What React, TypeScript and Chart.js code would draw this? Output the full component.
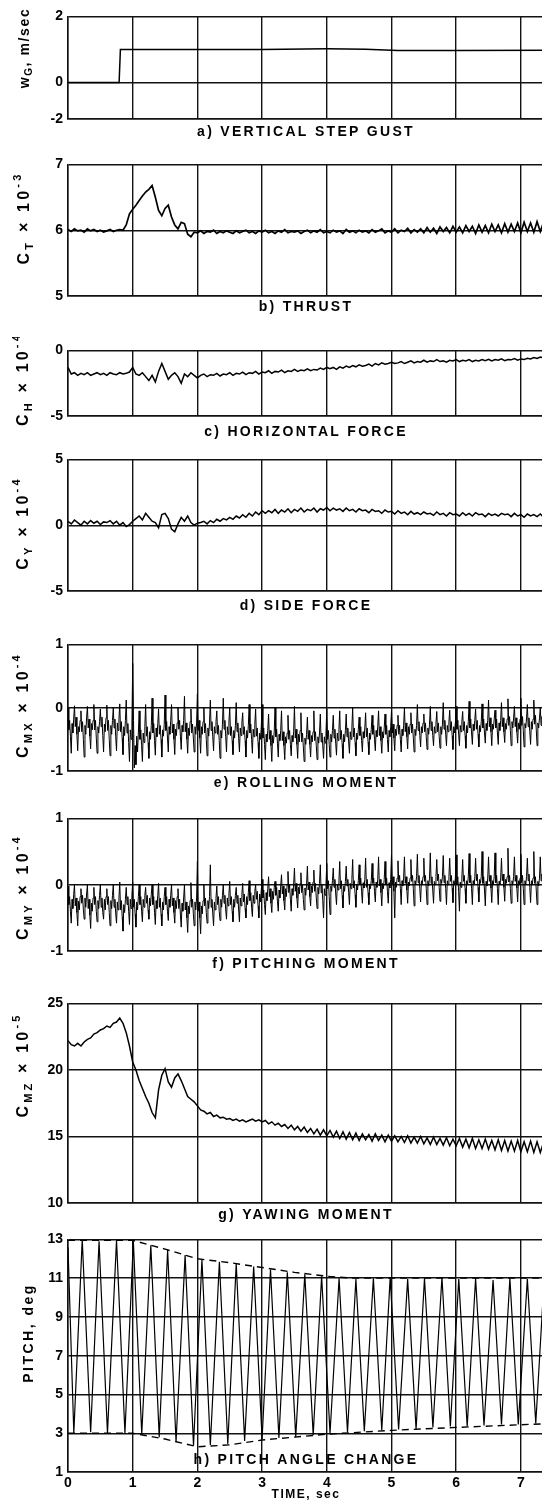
import React, { useEffect, useRef } from 'react';
import { Chart, registerables } from 'chart.js';

Chart.register(...registerables);

// ---------- shared axis data ----------
const X_MAX = 7.45;
const xTicks = [0, 1, 2, 3, 4, 5, 6, 7];
const xTickLabels = ['0', '1', '2', '3', '4', '5', '6', '7'];

// a) vertical step gust (m/sec)
const gustT = [0, 0.79, 0.81, 2.0, 3.0, 4.0, 4.6, 5.1, 6.0, 7.45];
const gustV = [0, 0, 1.0, 1.0, 1.0, 1.02, 1.01, 0.97, 0.97, 0.98];
const gustTicks = [-1.1, 0, 2];
const gustTickLabels = ['-2', '0', '2'];

// b) thrust, CT x 10^-3 (sampled every 0.05 s)
const thrustDT = 0.05;
const thrust = [
  6.01, 5.98, 6.02, 5.99, 6.0, 5.97, 6.02, 5.99, 6.01, 5.98, 6.0, 5.97, 5.99, 6.01, 5.98, 6.0,
  6.01, 6.0, 6.08, 6.25, 6.32, 6.38, 6.45, 6.52, 6.58, 6.62, 6.68, 6.5, 6.3, 6.22, 6.33, 6.38,
  6.2, 6.08, 6.02, 6.12, 6.1, 5.94, 5.9, 5.97,
  5.96, 5.99, 5.95, 5.98, 5.97, 6.0, 5.95, 5.98, 5.96, 5.99,
  5.97, 5.95, 5.99, 5.96, 5.98, 6.0, 5.96, 5.98, 5.95, 5.99,
  5.97, 6.0, 5.96, 5.98, 5.95, 5.99, 5.97, 6.01, 5.96, 5.98,
  5.97, 5.99, 5.95, 5.98, 6.0, 5.96, 5.99, 5.97, 6.01, 5.96,
  5.98, 5.96, 6.0, 5.97, 5.99, 5.95, 6.01, 5.97, 5.99, 5.96,
  6.0, 5.97, 5.99, 5.96, 6.01, 5.97, 5.99, 6.02, 5.96, 5.99,
  5.97, 6.02, 5.96, 6.0, 5.98, 6.03, 5.96, 6.01, 5.97, 6.02,
  5.96, 6.04, 5.97, 6.03, 5.95, 6.05, 5.98, 6.04, 5.96, 6.06,
  5.97, 6.05, 5.96, 6.07, 5.98, 6.06, 5.95, 6.08, 5.97, 6.07,
  5.96, 6.09, 5.98, 6.08, 5.96, 6.1, 5.97, 6.09, 5.98, 6.11,
  5.96, 6.12, 5.98, 6.11, 5.97, 6.13, 5.98, 6.12, 5.97, 6.14,
];
const thrustTicks = [5, 6, 7];
const thrustTickLabels = ['5', '6', '7'];

// c) horizontal force, CH x 10^-4 (every 0.05 s)
const hforceDT = 0.05;
const hforce = [
  -1.3, -1.8, -1.7, -1.9, -1.75, -1.85, -1.7, -1.9, -1.8, -1.7, -1.85, -1.75, -1.9, -1.7, -1.8, -1.85, -1.7, -1.8, -1.75, -1.65,
  -1.3,
  -1.8, -1.9, -1.7, -2.0, -2.3, -1.9, -2.4, -1.6, -1.0, -1.6, -2.2, -1.9, -1.7, -2.0, -2.5, -1.8, -2.0, -1.7, -1.9, -2.1,
  -1.9, -1.8, -2.0, -1.85, -1.9, -1.75, -1.95, -1.8, -1.85, -1.7, -1.9, -1.75, -1.8, -1.65, -1.85, -1.7, -1.75, -1.6, -1.8, -1.65,
  -1.7, -1.55, -1.75, -1.6, -1.65, -1.5, -1.7, -1.55, -1.6, -1.45, -1.6, -1.5, -1.55, -1.4, -1.55, -1.45, -1.5, -1.35, -1.45, -1.3,
  -1.4, -1.3, -1.45, -1.25, -1.35, -1.2, -1.3, -1.15, -1.25, -1.1, -1.2, -1.15, -1.05, -1.2, -1.0, -1.1, -0.95, -1.05, -1.0, -0.9,
  -1.0, -0.95, -0.85, -1.0, -0.9, -0.8, -0.95, -0.85, -0.9, -0.75, -0.9, -0.8, -0.85, -0.7, -0.85, -0.8, -0.9, -0.75, -0.8, -0.7,
  -0.85, -0.75, -0.8, -0.7, -0.85, -0.75, -0.8, -0.7, -0.78, -0.68, -0.8, -0.7, -0.75, -0.65, -0.78, -0.7, -0.72, -0.62, -0.75, -0.65,
  -0.7, -0.6, -0.65, -0.55, -0.62, -0.5, -0.58, -0.48, -0.55,
];
const hforceTicks = [-5, 0];
const hforceTickLabels = ['-5', '0'];

// d) side force, CY x 10^-4 (every 0.05 s)
const sforceDT = 0.05;
const sforce = [
  0.3, 0.1, 0.4, 0.2, 0.0, 0.3, 0.1, 0.35, 0.15, 0.3, 0.05, 0.25, 0.2, 0.35, 0.1, 0.3, 0.0, 0.2, -0.1, 0.05,
  0.3, 0.5, 0.7, 0.4, 0.9, 0.6, 0.3, 0.2, -0.2, 0.8, 0.9, 0.5, -0.3, -0.5, 0.1, 0.6, 0.3, 0.7, 0.2, 0.0, 0.15,
  0.2, 0.3, 0.1, 0.35, 0.2, 0.45, 0.3, 0.5, 0.4, 0.6, 0.45, 0.7, 0.55, 0.8, 0.6, 0.9, 0.7, 1.0, 0.8, 1.1,
  0.9, 1.1, 0.95, 1.2, 0.9, 1.15, 1.0, 1.25, 0.95, 1.2, 1.05, 1.3, 1.0, 1.2, 1.1, 1.3, 1.0, 1.25, 1.15, 1.35,
  1.1, 1.3, 1.15, 1.25, 1.05, 1.3, 1.1, 1.2, 1.0, 1.25, 1.1, 1.15, 0.95, 1.2, 1.05, 1.1, 0.9, 1.15, 1.0, 1.05,
  0.85, 1.1, 0.9, 1.0, 0.8, 1.05, 0.85, 0.95, 0.8, 1.0, 0.85, 0.9, 0.75, 1.0, 0.8, 0.9, 0.7, 0.95, 0.8, 0.85,
  0.7, 0.95, 0.75, 0.9, 0.7, 0.95, 0.8, 0.85, 0.65, 0.9, 0.75, 0.85, 0.7, 0.9, 0.8, 0.85, 0.65, 0.9, 0.7, 0.8,
  0.6, 0.85, 0.7, 0.8, 0.65, 0.85, 0.6, 0.75, 0.7,
];
const sforceTicks = [-5, 0, 5];
const sforceTickLabels = ['-5', '0', '5'];

// e) rolling moment, CMX x 10^-4 (every 0.0125 s)
const rollDT = 0.0125;
const roll = [
  // 0-1 s
  0.0, -0.35, -0.2, -0.45, -0.72, -0.25, -0.4, -0.18, 0.03, -0.3, -0.15, -0.42, -0.68, -0.3, -0.38, -0.2,
  -0.05, -0.38, -0.22, -0.5, -0.78, -0.28, -0.42, -0.15, 0.02, -0.32, -0.18, -0.45, -0.65, -0.25, -0.35, -0.2,
  0.05, -0.35, -0.2, -0.48, -0.72, -0.3, -0.4, -0.22, -0.02, -0.3, -0.15, -0.44, -0.7, -0.26, -0.38, -0.16,
  0.04, -0.36, -0.2, -0.5, -0.76, -0.28, -0.42, -0.2, 0.0, -0.32, -0.18, -0.46, -0.68, -0.24, -0.36, -0.18,
  0.06, -0.38, -0.22, -0.48, -0.74, -0.3, -0.44, -0.2, 0.12, -0.4, -0.25, -0.55, -0.85, -0.35, -0.5, -0.3,
  // 1-2 s
  0.7, -0.2, -0.95, -0.6, -0.9, -0.45, -0.7, -0.4, -0.05, -0.5, -0.35, -0.6, -0.85, -0.4, -0.55, -0.3,
  0.05, -0.45, -0.3, -0.55, -0.8, -0.38, -0.5, -0.28, 0.15, -0.4, -0.25, -0.52, -0.75, -0.32, -0.46, -0.25,
  -0.02, -0.42, -0.28, -0.5, -0.78, -0.35, -0.45, -0.26, 0.2, -0.36, -0.22, -0.48, -0.7, -0.3, -0.42, -0.2,
  0.05, -0.4, -0.26, -0.5, -0.74, -0.34, -0.44, -0.24, 0.0, -0.34, -0.2, -0.45, -0.66, -0.28, -0.38, -0.2,
  0.18, -0.38, -0.24, -0.5, -0.72, -0.32, -0.44, -0.22, -0.02, -0.4, -0.26, -0.48, -0.7, -0.3, -0.42, -0.24,
  // 2-3 s
  0.22, -0.36, -0.2, -0.48, -0.72, -0.3, -0.42, -0.22, 0.0, -0.4, -0.25, -0.5, -0.76, -0.32, -0.45, -0.24,
  0.12, -0.36, -0.22, -0.46, -0.68, -0.3, -0.4, -0.22, -0.05, -0.42, -0.28, -0.52, -0.8, -0.36, -0.48, -0.26,
  0.15, -0.34, -0.2, -0.46, -0.7, -0.3, -0.42, -0.22, 0.0, -0.44, -0.3, -0.52, -0.74, -0.36, -0.48, -0.28,
  0.08, -0.38, -0.24, -0.48, -0.7, -0.32, -0.44, -0.24, -0.08, -0.42, -0.3, -0.52, -0.78, -0.36, -0.48, -0.28,
  0.05, -0.4, -0.26, -0.5, -0.72, -0.34, -0.46, -0.26, -0.02, -0.45, -0.32, -0.55, -0.8, -0.4, -0.5, -0.3,
  // 3-4 s
  0.05, -0.48, -0.32, -0.58, -0.82, -0.42, -0.54, -0.36, -0.1, -0.5, -0.36, -0.6, -0.85, -0.44, -0.56, -0.38,
  0.0, -0.46, -0.34, -0.56, -0.78, -0.42, -0.52, -0.36, -0.05, -0.52, -0.38, -0.6, -0.82, -0.46, -0.56, -0.4,
  -0.12, -0.5, -0.36, -0.58, -0.76, -0.44, -0.54, -0.38, 0.02, -0.48, -0.34, -0.58, -0.8, -0.42, -0.54, -0.36,
  -0.08, -0.54, -0.4, -0.62, -0.85, -0.48, -0.58, -0.42, -0.15, -0.5, -0.36, -0.58, -0.78, -0.44, -0.54, -0.38,
  -0.05, -0.52, -0.38, -0.6, -0.82, -0.46, -0.56, -0.4, -0.1, -0.54, -0.4, -0.6, -0.8, -0.46, -0.56, -0.4,
  // 4-5 s
  -0.02, -0.5, -0.36, -0.58, -0.78, -0.42, -0.54, -0.36, -0.12, -0.48, -0.34, -0.56, -0.75, -0.4, -0.52, -0.34,
  -0.05, -0.5, -0.36, -0.58, -0.8, -0.42, -0.54, -0.36, -0.1, -0.46, -0.32, -0.54, -0.72, -0.38, -0.5, -0.32,
  0.0, -0.46, -0.32, -0.55, -0.76, -0.4, -0.5, -0.34, -0.15, -0.44, -0.3, -0.52, -0.7, -0.38, -0.48, -0.32,
  -0.08, -0.46, -0.32, -0.54, -0.74, -0.4, -0.5, -0.34, -0.12, -0.42, -0.28, -0.5, -0.68, -0.36, -0.46, -0.3,
  -0.05, -0.44, -0.3, -0.52, -0.72, -0.38, -0.48, -0.32, -0.1, -0.42, -0.28, -0.5, -0.7, -0.36, -0.46, -0.3,
  // 5-6 s
  -0.05, -0.4, -0.26, -0.48, -0.68, -0.34, -0.44, -0.28, -0.12, -0.42, -0.28, -0.5, -0.7, -0.34, -0.44, -0.28,
  0.0, -0.38, -0.24, -0.46, -0.65, -0.3, -0.42, -0.26, -0.08, -0.4, -0.26, -0.48, -0.7, -0.34, -0.44, -0.28,
  0.05, -0.36, -0.22, -0.44, -0.62, -0.3, -0.4, -0.24, -0.1, -0.38, -0.24, -0.46, -0.66, -0.32, -0.42, -0.26,
  0.02, -0.36, -0.22, -0.44, -0.6, -0.3, -0.4, -0.24, -0.06, -0.38, -0.24, -0.46, -0.64, -0.3, -0.42, -0.26,
  0.08, -0.34, -0.2, -0.42, -0.6, -0.28, -0.38, -0.22, -0.04, -0.36, -0.22, -0.44, -0.66, -0.3, -0.4, -0.24,
  // 6-7 s
  0.02, -0.34, -0.2, -0.42, -0.6, -0.28, -0.38, -0.22, -0.06, -0.36, -0.22, -0.44, -0.64, -0.28, -0.4, -0.22,
  0.1, -0.32, -0.18, -0.4, -0.58, -0.26, -0.36, -0.2, -0.02, -0.34, -0.2, -0.42, -0.62, -0.28, -0.38, -0.22,
  0.06, -0.32, -0.18, -0.4, -0.56, -0.25, -0.36, -0.2, 0.12, -0.3, -0.16, -0.38, -0.6, -0.26, -0.34, -0.18,
  -0.04, -0.32, -0.18, -0.4, -0.58, -0.24, -0.36, -0.2, 0.08, -0.3, -0.16, -0.38, -0.55, -0.25, -0.34, -0.18,
  0.14, -0.28, -0.14, -0.36, -0.6, -0.22, -0.32, -0.16, 0.02, -0.3, -0.16, -0.38, -0.56, -0.24, -0.34, -0.18,
  // 7-7.45 s
  0.15, -0.28, -0.14, -0.36, -0.62, -0.25, -0.32, -0.16, 0.05, -0.3, -0.16, -0.38, -0.58, -0.22, -0.34, -0.18,
  0.12, -0.26, -0.12, -0.34, -0.6, -0.24, -0.32, -0.16, 0.0, -0.28, -0.14, -0.36, -0.56, -0.22, -0.34, -0.18,
  0.1, -0.26, -0.12, -0.34, -0.6,
];
const rollTicks = [-1, 0, 1];
const rollTickLabels = ['-1', '0', '1'];

// f) pitching moment, CMY x 10^-4 (every 0.0125 s)
const pitchMDT = 0.0125;
const pitchM = [
  // 0-1 s
  -0.02, -0.3, -0.18, -0.4, -0.58, -0.22, -0.36, -0.15, 0.0, -0.32, -0.2, -0.42, -0.62, -0.25, -0.38, -0.18,
  -0.06, -0.28, -0.16, -0.38, -0.52, -0.2, -0.34, -0.14, 0.0, -0.36, -0.22, -0.46, -0.66, -0.28, -0.4, -0.2,
  -0.04, -0.3, -0.18, -0.4, -0.56, -0.24, -0.36, -0.16, 0.0, -0.34, -0.2, -0.42, -0.52, -0.22, -0.38, -0.18,
  -0.06, -0.3, -0.18, -0.42, -0.62, -0.24, -0.36, -0.16, 0.0, -0.34, -0.22, -0.44, -0.58, -0.26, -0.38, -0.2,
  0.04, -0.38, -0.24, -0.48, -0.7, -0.3, -0.42, -0.22, -0.04, -0.3, -0.18, -0.4, -0.6, -0.22, -0.36, -0.16,
  // 1-2 s
  0.04, -0.34, -0.22, -0.44, -0.64, -0.26, -0.38, -0.18, 0.0, -0.3, -0.18, -0.4, -0.56, -0.22, -0.34, -0.16,
  -0.04, -0.28, -0.16, -0.38, -0.52, -0.2, -0.32, -0.14, 0.0, -0.3, -0.18, -0.42, -0.6, -0.24, -0.36, -0.16,
  0.02, -0.34, -0.2, -0.44, -0.62, -0.26, -0.38, -0.18, -0.04, -0.3, -0.18, -0.4, -0.54, -0.22, -0.34, -0.16,
  0.0, -0.32, -0.2, -0.42, -0.58, -0.24, -0.36, -0.18, -0.06, -0.36, -0.22, -0.46, -0.64, -0.28, -0.4, -0.2,
  0.0, -0.38, -0.26, -0.5, -0.72, -0.32, -0.44, -0.24, 0.03, -0.34, -0.22, -0.44, -0.62, -0.26, -0.38, -0.2,
  // 2-3 s
  0.35, -0.4, -0.26, -0.5, -0.74, -0.32, -0.44, -0.24, 0.0, -0.32, -0.2, -0.42, -0.58, -0.24, -0.36, -0.18,
  0.3, -0.34, -0.22, -0.44, -0.62, -0.26, -0.38, -0.2, -0.02, -0.3, -0.18, -0.4, -0.54, -0.22, -0.34, -0.16,
  0.0, -0.28, -0.16, -0.38, -0.52, -0.2, -0.32, -0.14, 0.05, -0.3, -0.18, -0.4, -0.56, -0.22, -0.34, -0.16,
  -0.04, -0.28, -0.16, -0.38, -0.56, -0.2, -0.32, -0.14, 0.02, -0.26, -0.14, -0.36, -0.5, -0.18, -0.3, -0.12,
  0.06, -0.24, -0.12, -0.34, -0.48, -0.16, -0.28, -0.1, 0.0, -0.22, -0.1, -0.32, -0.5, -0.14, -0.26, -0.08,
  // 3-4 s
  0.08, -0.2, -0.08, -0.3, -0.45, -0.12, -0.24, -0.06, 0.12, -0.18, -0.06, -0.28, -0.42, -0.1, -0.22, -0.04,
  0.05, -0.16, -0.04, -0.26, -0.4, -0.08, -0.2, -0.02, 0.15, -0.14, -0.02, -0.24, -0.38, -0.06, -0.18, 0.0,
  0.2, -0.12, 0.0, -0.22, -0.4, -0.06, -0.16, 0.0, 0.25, -0.1, 0.02, -0.2, -0.35, -0.04, -0.14, 0.02,
  0.18, -0.12, 0.0, -0.22, -0.38, -0.05, -0.16, 0.0, 0.28, -0.08, 0.04, -0.18, -0.32, -0.02, -0.12, 0.04,
  0.22, -0.1, 0.02, -0.2, -0.36, -0.04, -0.14, 0.02, 0.3, -0.12, 0.0, -0.24, -0.5, -0.06, -0.16, 0.0,
  // 4-5 s
  0.32, -0.06, 0.06, -0.18, -0.45, -0.02, -0.1, 0.06, 0.25, -0.04, 0.08, -0.14, -0.3, 0.0, -0.08, 0.06,
  0.35, -0.06, 0.06, -0.16, -0.35, -0.02, -0.1, 0.05, 0.28, -0.02, 0.08, -0.12, -0.3, 0.02, -0.06, 0.08,
  0.38, -0.05, 0.06, -0.15, -0.34, 0.0, -0.08, 0.06, 0.3, 0.0, 0.1, -0.1, -0.28, 0.03, -0.05, 0.08,
  0.4, -0.04, 0.08, -0.12, -0.3, 0.0, -0.06, 0.06, 0.32, 0.02, 0.1, -0.1, -0.26, 0.04, -0.04, 0.08,
  0.42, -0.02, 0.08, -0.12, -0.32, 0.02, -0.06, 0.08, 0.35, 0.0, 0.1, -0.1, -0.28, 0.03, -0.05, 0.08,
  // 5-6 s
  0.45, 0.0, 0.12, -0.1, -0.5, 0.04, -0.04, 0.1, 0.36, 0.04, 0.14, -0.06, -0.3, 0.06, -0.02, 0.1,
  0.42, 0.02, 0.12, -0.08, -0.28, 0.04, -0.02, 0.1, 0.38, 0.05, 0.14, -0.06, -0.32, 0.06, 0.0, 0.12,
  0.46, 0.03, 0.14, -0.06, -0.26, 0.06, 0.0, 0.12, 0.4, 0.05, 0.14, -0.06, -0.3, 0.06, -0.02, 0.1,
  0.48, 0.02, 0.12, -0.08, -0.28, 0.05, 0.0, 0.12, 0.38, 0.06, 0.16, -0.04, -0.25, 0.08, 0.02, 0.12,
  0.44, 0.03, 0.14, -0.06, -0.3, 0.06, 0.0, 0.12, 0.4, 0.05, 0.14, -0.05, -0.27, 0.06, 0.0, 0.1,
  // 6-7 s
  0.45, 0.0, 0.12, -0.1, -0.4, 0.04, -0.04, 0.1, 0.38, 0.05, 0.14, -0.06, -0.28, 0.06, 0.0, 0.12,
  0.47, 0.03, 0.14, -0.06, -0.3, 0.06, 0.0, 0.1, 0.4, 0.06, 0.16, -0.04, -0.26, 0.08, 0.02, 0.12,
  0.5, 0.02, 0.12, -0.08, -0.32, 0.05, -0.02, 0.1, 0.42, 0.05, 0.14, -0.05, -0.27, 0.06, 0.0, 0.12,
  0.48, 0.03, 0.14, -0.06, -0.3, 0.05, 0.0, 0.1, 0.4, 0.06, 0.16, -0.04, -0.25, 0.08, 0.02, 0.12,
  0.55, 0.04, 0.14, -0.06, -0.28, 0.06, 0.0, 0.12, 0.42, 0.05, 0.14, -0.05, -0.26, 0.06, 0.0, 0.1,
  // 7-7.45 s
  0.46, 0.03, 0.14, -0.06, -0.3, 0.06, 0.0, 0.12, 0.4, 0.06, 0.16, -0.04, -0.27, 0.06, 0.0, 0.1,
  0.5, 0.02, 0.12, -0.08, -0.3, 0.05, -0.02, 0.1, 0.42, 0.06, 0.16, -0.04, -0.25, 0.06, 0.0, 0.1,
  0.48, 0.03, 0.14, -0.06, -0.28,
];
const pitchMTicks = [-1, 0, 1];
const pitchMTickLabels = ['-1', '0', '1'];

// g) yawing moment, CMZ x 10^-5 (every 0.05 s)
const yawDT = 0.05;
const yaw = [
  22.2, 21.9, 21.8, 22.0, 21.8, 22.1, 22.3, 22.4, 22.7, 22.8, 23.0, 23.1, 23.3, 23.2, 23.5,
  23.6, 23.9, 23.5, 22.8, 21.8, 20.6,
  20.0, 19.2, 18.6, 18.0, 17.5, 16.8, 16.4, 18.5, 19.6, 20.1, 19.1, 18.7, 19.4, 19.7, 19.2, 18.6, 18.0, 17.8, 17.6, 17.3,
  17.0, 16.9, 16.7, 16.8, 16.5, 16.6, 16.4, 16.45, 16.3, 16.35, 16.2, 16.3, 16.15, 16.25, 16.1, 16.2, 16.3, 16.15, 16.25, 16.1,
  16.2, 15.95, 16.1, 15.85, 16.0, 15.75, 15.9, 15.6, 15.85, 15.5, 15.75, 15.4, 15.7, 15.3, 15.6, 15.2, 15.55, 15.1, 15.5, 15.05,
  15.45, 14.95, 15.4, 14.85, 15.35, 14.8, 15.3, 14.75, 15.25, 14.7, 15.2, 14.75, 15.15, 14.65, 15.2, 14.7, 15.1, 14.6, 15.1, 14.65,
  15.05, 14.6, 15.0, 14.55, 15.05, 14.5, 14.95, 14.5, 15.0, 14.45, 14.9, 14.4, 14.95, 14.4, 14.85, 14.35, 14.9, 14.3, 14.8, 14.3,
  14.85, 14.2, 14.8, 14.15, 14.85, 14.1, 14.75, 14.1, 14.8, 14.05, 14.7, 14.0, 14.75, 13.95, 14.7, 13.9, 14.65, 13.9, 14.7, 13.85,
  14.6, 13.85, 14.65, 13.8, 14.6, 13.8, 14.55, 13.75, 14.5,
];
const yawTicks = [10, 15, 20, 25];
const yawTickLabels = ['10', '15', '20', '25'];

// h) pitch angle (deg): turning points of the oscillation
const pitchT = [
  0, 0.09, 0.22, 0.35, 0.48, 0.61, 0.75, 0.88, 1.01, 1.14, 1.28, 1.41, 1.54, 1.67, 1.81, 1.94, 2.07, 2.2, 2.34, 2.47,
  2.6, 2.73, 2.87, 3.0, 3.13, 3.26, 3.39, 3.52, 3.66, 3.79, 3.92, 4.05, 4.19, 4.32, 4.45, 4.58, 4.72, 4.85, 4.98, 5.11,
  5.25, 5.38, 5.51, 5.64, 5.78, 5.91, 6.04, 6.17, 6.3, 6.43, 6.57, 6.7, 6.83, 6.96, 7.1, 7.23, 7.36, 7.49,
];
const pitchV = [
  12.6, 3.0, 13.0, 3.05, 12.9, 3.0, 12.95, 3.0, 12.9, 2.95, 12.7, 2.8, 12.45, 2.55, 12.2, 2.35, 11.95, 2.4, 11.85, 2.45,
  11.75, 2.6, 11.6, 2.7, 11.45, 2.75, 11.3, 2.8, 11.2, 2.9, 11.1, 3.0, 11.0, 3.05, 10.95, 3.1, 11.0, 3.15, 11.05, 3.2,
  10.95, 3.2, 11.0, 3.3, 11.05, 3.35, 10.95, 3.35, 11.0, 3.4, 10.9, 3.45, 11.0, 3.45, 10.95, 3.5, 11.0, 3.5,
];
const upperEnvT = [0, 1.0, 1.5, 2.0, 2.5, 3.0, 3.5, 4.0, 4.4, 7.45];
const upperEnvV = [12.95, 12.95, 12.5, 12.0, 11.8, 11.55, 11.3, 11.1, 11.0, 11.0];
const lowerEnvT = [0, 1.0, 1.5, 2.0, 2.5, 3.0, 3.5, 4.0, 5.0, 6.0, 7.45];
const lowerEnvV = [3.0, 3.0, 2.7, 2.3, 2.4, 2.65, 2.8, 2.95, 3.15, 3.3, 3.5];
const pitchTicks = [1, 3, 5, 7, 9, 11, 13];
const pitchTickLabels = ['1', '3', '5', '7', '9', '11', '13'];

// ---------- helpers ----------
const FONT = '"Liberation Sans", Arial, Helvetica, sans-serif';
const INK = '#000';
const GRID = '#121212';
const CANVAS_W = 542;
const PADT = 10;
const TITLE_X = 306;

type Seg = { t: string; s?: 'sub' | 'sup' };
type Pt = { x: number; y: number };

const sampled = (dt: number, vals: number[]): Pt[] => vals.map((v, i) => ({ x: i * dt, y: v }));
const paired = (ts: number[], vs: number[]): Pt[] => ts.map((t, i) => ({ x: t, y: vs[i] }));

interface Panel {
  id: string;
  top: number;
  bottom: number;
  padB: number;
  yMin: number;
  yMax: number;
  yTicks: number[];
  yTickLabels: string[];
  datasets: () => any[];
  title: string;
  titleY: number;
  yTitle: Seg[];
  yTitleX: number;
  yTitleY: number;
  yTitleSize: number;
  yTitleSpacing: number;
  showX?: boolean;
  xAxisH?: number;
  xTitle?: string;
  xTitleY?: number;
}

const line = (data: Pt[], width = 1.2) => ({
  data,
  borderColor: INK,
  borderWidth: width,
  pointRadius: 0,
  fill: false,
  tension: 0,
});

const panels: Panel[] = [
  {
    id: 'a', top: 13, bottom: 119, padB: 36, yMin: -1.1, yMax: 2,
    yTicks: gustTicks, yTickLabels: gustTickLabels,
    datasets: () => [line(paired(gustT, gustV), 1.5)],
    title: 'a) VERTICAL STEP GUST', titleY: 132,
    yTitle: [{ t: 'w' }, { t: 'G', s: 'sub' }, { t: ', m/sec' }], yTitleX: 25, yTitleY: 48,
    yTitleSize: 14, yTitleSpacing: 1.6,
  },
  {
    id: 'b', top: 161, bottom: 296, padB: 36, yMin: 5, yMax: 7,
    yTicks: thrustTicks, yTickLabels: thrustTickLabels,
    datasets: () => [line(sampled(thrustDT, thrust), 1.7)],
    title: 'b) THRUST', titleY: 307,
    yTitle: [{ t: 'C' }, { t: 'T', s: 'sub' }, { t: ' × 10' }, { t: '-3', s: 'sup' }], yTitleX: 25, yTitleY: 218,
    yTitleSize: 16, yTitleSpacing: 3.2,
  },
  {
    id: 'c', top: 347, bottom: 416, padB: 36, yMin: -5, yMax: 0,
    yTicks: hforceTicks, yTickLabels: hforceTickLabels,
    datasets: () => [line(sampled(hforceDT, hforce), 1.5)],
    title: 'c) HORIZONTAL FORCE', titleY: 432,
    yTitle: [{ t: 'C' }, { t: 'H', s: 'sub' }, { t: ' × 10' }, { t: '-4', s: 'sup' }], yTitleX: 24, yTitleY: 379,
    yTitleSize: 16, yTitleSpacing: 3.2,
  },
  {
    id: 'd', top: 456, bottom: 591, padB: 36, yMin: -5, yMax: 5,
    yTicks: sforceTicks, yTickLabels: sforceTickLabels,
    datasets: () => [line(sampled(sforceDT, sforce), 1.5)],
    title: 'd) SIDE FORCE', titleY: 606,
    yTitle: [{ t: 'C' }, { t: 'Y', s: 'sub' }, { t: ' × 10' }, { t: '-4', s: 'sup' }], yTitleX: 24, yTitleY: 523,
    yTitleSize: 16, yTitleSpacing: 3.2,
  },
  {
    id: 'e', top: 641, bottom: 771, padB: 36, yMin: -1, yMax: 1,
    yTicks: rollTicks, yTickLabels: rollTickLabels,
    datasets: () => [line(sampled(rollDT, roll), 1)],
    title: 'e) ROLLING MOMENT', titleY: 783,
    yTitle: [{ t: 'C' }, { t: 'MX', s: 'sub' }, { t: ' × 10' }, { t: '-4', s: 'sup' }], yTitleX: 24, yTitleY: 705,
    yTitleSize: 16, yTitleSpacing: 3.2,
  },
  {
    id: 'f', top: 815, bottom: 951, padB: 36, yMin: -1, yMax: 1,
    yTicks: pitchMTicks, yTickLabels: pitchMTickLabels,
    datasets: () => [line(sampled(pitchMDT, pitchM), 1)],
    title: 'f) PITCHING MOMENT', titleY: 964,
    yTitle: [{ t: 'C' }, { t: 'MY', s: 'sub' }, { t: ' × 10' }, { t: '-4', s: 'sup' }], yTitleX: 24, yTitleY: 887,
    yTitleSize: 16, yTitleSpacing: 3.2,
  },
  {
    id: 'g', top: 1000, bottom: 1203, padB: 30, yMin: 10, yMax: 25,
    yTicks: yawTicks, yTickLabels: yawTickLabels,
    datasets: () => [line(sampled(yawDT, yaw), 1.5)],
    title: 'g) YAWING MOMENT', titleY: 1215,
    yTitle: [{ t: 'C' }, { t: 'MZ', s: 'sub' }, { t: ' × 10' }, { t: '-5', s: 'sup' }], yTitleX: 24, yTitleY: 1065,
    yTitleSize: 16, yTitleSpacing: 3.2,
  },
  {
    id: 'h', top: 1236, bottom: 1472, padB: 10, yMin: 1, yMax: 13,
    yTicks: pitchTicks, yTickLabels: pitchTickLabels,
    datasets: () => [
      line(paired(pitchT, pitchV), 1.2),
      { ...line(paired(upperEnvT, upperEnvV), 1.4), borderDash: [7, 5] },
      { ...line(paired(lowerEnvT, lowerEnvV), 1.4), borderDash: [7, 5] },
    ],
    title: 'h) PITCH ANGLE CHANGE', titleY: 1460,
    yTitle: [{ t: 'PITCH, deg' }], yTitleX: 29, yTitleY: 1333,
    yTitleSize: 14, yTitleSpacing: 2.5,
    showX: true, xAxisH: 24, xTitle: 'TIME, sec', xTitleY: 1495,
  },
];

function drawRich(ctx: CanvasRenderingContext2D, segs: Seg[], cx: number, cy: number, size: number, spacing: number) {
  ctx.save();
  ctx.translate(cx, cy);
  ctx.rotate(-Math.PI / 2);
  ctx.textBaseline = 'middle';
  ctx.textAlign = 'left';
  ctx.fillStyle = INK;
  (ctx as any).letterSpacing = spacing + 'px';
  const items = segs.map((sg) => {
    const fs = sg.s ? Math.round(size * 0.7) : size;
    ctx.font = `bold ${fs}px ${FONT}`;
    return { sg, fs, w: ctx.measureText(sg.t).width };
  });
  const total = items.reduce((a, b) => a + b.w, 0);
  let x = -total / 2;
  for (const it of items) {
    ctx.font = `bold ${it.fs}px ${FONT}`;
    const dy = it.sg.s === 'sub' ? size * 0.32 : it.sg.s === 'sup' ? -size * 0.42 : 0;
    ctx.fillText(it.sg.t, x, dy);
    x += it.w;
  }
  ctx.restore();
}

function textPlugin(p: Panel) {
  return {
    id: 'panelText' + p.id,
    afterDraw(chart: any) {
      const ctx: CanvasRenderingContext2D = chart.ctx;
      const oy = p.top - PADT;
      ctx.save();
      ctx.fillStyle = INK;
      ctx.textAlign = 'center';
      ctx.textBaseline = 'middle';
      (ctx as any).letterSpacing = '2.3px';
      ctx.font = `bold 14px ${FONT}`;
      ctx.fillText(p.title, TITLE_X - 8, p.titleY - oy);
      if (p.xTitle && p.xTitleY) {
        (ctx as any).letterSpacing = '1.5px';
        ctx.font = `bold 12px ${FONT}`;
        ctx.fillText(p.xTitle, TITLE_X - 8, p.xTitleY - oy);
      }
      ctx.restore();
      drawRich(ctx, p.yTitle, p.yTitleX - 8, p.yTitleY - oy, p.yTitleSize, p.yTitleSpacing);
    },
  };
}

function PanelChart({ p }: { p: Panel }) {
  const ref = useRef<HTMLCanvasElement>(null);
  const xH = p.xAxisH || 0;
  const h = p.bottom - p.top + PADT + p.padB + xH;
  useEffect(() => {
    if (!ref.current) return;
    const tickFont = { family: FONT, size: 14, weight: 'bold' as const };
    const chart = new Chart(ref.current, {
      type: 'line',
      data: { datasets: p.datasets() },
      options: {
        animation: false,
        responsive: false,
        maintainAspectRatio: false,
        events: [],
        layout: { padding: { top: PADT, bottom: p.padB, left: 0, right: 0 } },
        plugins: { legend: { display: false }, tooltip: { enabled: false }, title: { display: false } },
        scales: {
          x: {
            type: 'linear',
            min: 0,
            max: X_MAX,
            afterBuildTicks: (s: any) => { s.ticks = xTicks.map((v) => ({ value: v })); },
            afterFit: (s: any) => { s.height = xH; },
            grid: { color: GRID, lineWidth: 1.4, drawTicks: false },
            border: { color: GRID, width: 1.5 },
            ticks: {
              display: !!p.showX,
              color: INK,
              font: tickFont,
              padding: 3,
              maxRotation: 0,
              autoSkip: false,
              callback: (_v: any, i: number) => xTickLabels[i],
            },
          },
          y: {
            type: 'linear',
            min: p.yMin,
            max: p.yMax,
            afterBuildTicks: (s: any) => { s.ticks = p.yTicks.map((v) => ({ value: v })); },
            afterFit: (s: any) => { s.width = 60; },
            grid: { color: GRID, lineWidth: 1.4, drawTicks: false },
            border: { color: GRID, width: 1.5 },
            ticks: {
              color: INK,
              font: tickFont,
              padding: 5,
              autoSkip: false,
              callback: (_v: any, i: number) => p.yTickLabels[i],
            },
          },
        },
      } as any,
      plugins: [textPlugin(p)],
    });
    return () => chart.destroy();
  }, []);
  return (
    <canvas
      ref={ref}
      width={CANVAS_W}
      height={h}
      style={{ position: 'absolute', left: 0, top: p.top - PADT - 8, width: CANVAS_W, height: h }}
    />
  );
}

export default function App() {
  return (
    <div style={{ position: 'relative', width: CANVAS_W, height: 1492, background: '#fff' }}>
      {panels.map((p) => (
        <PanelChart key={p.id} p={p} />
      ))}
    </div>
  );
}
